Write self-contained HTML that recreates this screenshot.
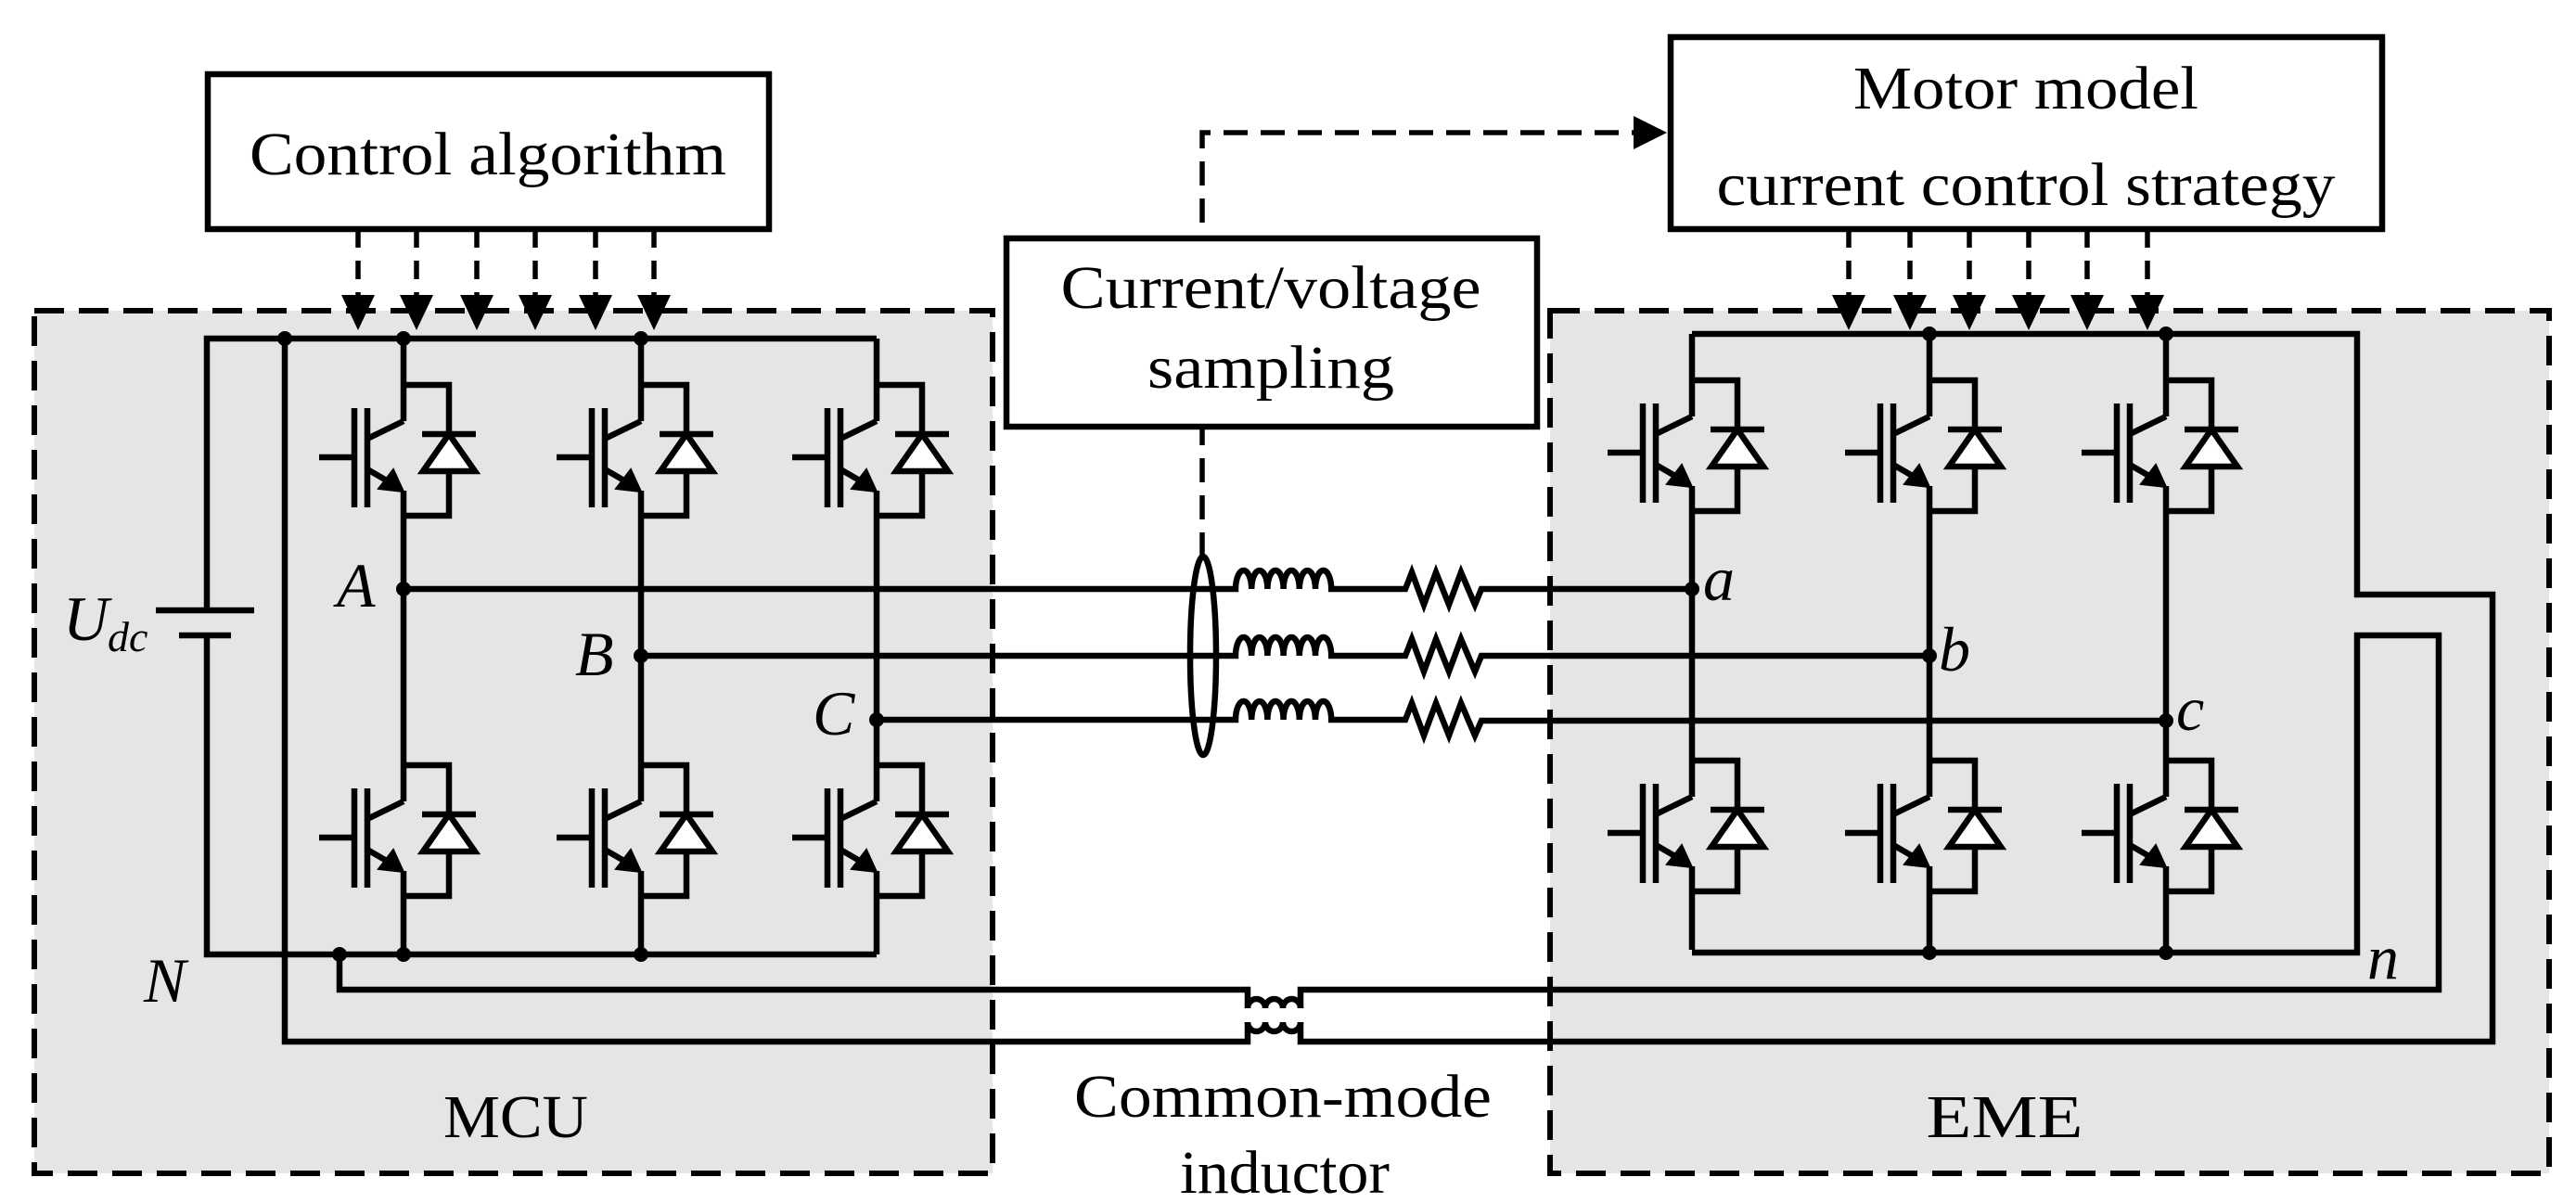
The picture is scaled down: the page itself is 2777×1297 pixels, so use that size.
<!DOCTYPE html>
<html><head><meta charset="utf-8"><style>
html,body{margin:0;padding:0;background:#fff;}
svg{display:block;}
text{font-family:"Liberation Serif",serif;fill:#000;}
</style></head><body>
<svg width="2777" height="1297" viewBox="0 0 2777 1297" xmlns="http://www.w3.org/2000/svg">
<defs>
<g id="sw" fill="none" stroke="#000" stroke-width="6.5">
  <path d="M0,50 H49 V103"/>
  <path d="M49,143 V191 H0"/>
  <path d="M0,89 L-39,108"/>
  <path d="M-39,141 L-8,159"/>
  <path d="M-53,75 V182 M-39,75 V182 M-91,128 H-53"/>
  <path d="M20,103 H78"/>
  <path d="M49,103 L21,143 L77,143 Z" fill="#fff"/>
  <path d="M0,165 L-27,162 L-11,141 Z" fill="#000" stroke-width="2"/>
</g>
<g id="leg" fill="none" stroke="#000" stroke-width="6.5">
  <path d="M0,0 V89 M0,164 V499 M0,574 V664"/>
  <use href="#sw"/>
  <use href="#sw" y="410"/>
</g>
<g id="arr">
  <path d="M0,247 V322" stroke="#000" stroke-width="5.5" stroke-dasharray="20,14" fill="none"/>
  <path d="M-18,318 L18,318 L0,356 Z" fill="#000"/>
</g>
</defs>

<rect x="37" y="335" width="1033" height="930" fill="#e5e5e5" stroke="#000" stroke-width="6" stroke-dasharray="32,16"/>
<rect x="1671" y="335" width="1077" height="930" fill="#e5e5e5" stroke="#000" stroke-width="6" stroke-dasharray="32,16"/>

<rect x="224" y="80" width="605" height="167" fill="#fff" stroke="#000" stroke-width="6.5"/>
<text x="526" y="188" font-size="66" text-anchor="middle" textLength="514" lengthAdjust="spacingAndGlyphs">Control algorithm</text>
<rect x="1801" y="40" width="767" height="207" fill="#fff" stroke="#000" stroke-width="6.5"/>
<text x="2184" y="117" font-size="66" text-anchor="middle" textLength="372" lengthAdjust="spacingAndGlyphs">Motor model</text>
<text x="2184" y="221" font-size="66" text-anchor="middle" textLength="667" lengthAdjust="spacingAndGlyphs">current control strategy</text>

<path d="M1296,600 V143 H1765" fill="none" stroke="#000" stroke-width="5.5" stroke-dasharray="26,14"/>
<path d="M1761,125 L1797,143 L1761,161 Z" fill="#000"/>
<rect x="1085" y="257" width="572" height="203" fill="#fff" stroke="#000" stroke-width="6.5"/>
<text x="1370" y="332" font-size="66" text-anchor="middle" textLength="453" lengthAdjust="spacingAndGlyphs">Current/voltage</text>
<text x="1370" y="418" font-size="66" text-anchor="middle" textLength="266" lengthAdjust="spacingAndGlyphs">sampling</text>

<use href="#arr" x="386"/><use href="#arr" x="449"/><use href="#arr" x="514"/>
<use href="#arr" x="577"/><use href="#arr" x="642"/><use href="#arr" x="705"/>
<use href="#arr" x="1993"/><use href="#arr" x="2059"/><use href="#arr" x="2123"/>
<use href="#arr" x="2187"/><use href="#arr" x="2250"/><use href="#arr" x="2315"/>

<g fill="none" stroke="#000" stroke-width="6.5">
  <path d="M223,658 V365 H945"/>
  <path d="M223,685 V1029 H945"/>
  <path d="M168,658 H274 M193,685 H249"/>
  <path d="M307,365 V1123 H1345 V1102"/>
  <path d="M1402,1102 V1123 H2687 V641 H2541 V360 H1824"/>
  <path d="M366,1029 V1067 H1345 V1087"/>
  <path d="M1402,1087 V1067 H2629 V685 H2541 V1027 H1824"/>
  <path d="M1345,1087 a9.5,10 0 0 1 19,0 a9.5,10 0 0 1 19,0 a9.5,10 0 0 1 19,0"/>
  <path d="M1345,1102 a9.5,10 0 0 0 19,0 a9.5,10 0 0 0 19,0 a9.5,10 0 0 0 19,0"/>
</g>

<use href="#leg" x="435" y="365"/>
<use href="#leg" x="691" y="365"/>
<use href="#leg" x="945" y="365"/>
<use href="#leg" x="1824" y="360"/>
<use href="#leg" x="2080" y="360"/>
<use href="#leg" x="2335" y="360"/>

<g fill="none" stroke="#000" stroke-width="6.5">
  <path d="M435,635 H1332 a8.6,20 0 0 1 17.2,0 a8.6,20 0 0 1 17.2,0 a8.6,20 0 0 1 17.2,0 a8.6,20 0 0 1 17.2,0 a8.6,20 0 0 1 17.2,0 a8.6,20 0 0 1 17.2,0 H1515 L1522,617 L1535,652 L1548,617 L1562,652 L1575,617 L1590,652 L1597,635 H1824"/>
  <path d="M691,707 H1332 a8.6,20 0 0 1 17.2,0 a8.6,20 0 0 1 17.2,0 a8.6,20 0 0 1 17.2,0 a8.6,20 0 0 1 17.2,0 a8.6,20 0 0 1 17.2,0 a8.6,20 0 0 1 17.2,0 H1515 L1522,689 L1535,724 L1548,689 L1562,724 L1575,689 L1590,724 L1597,707 H2080"/>
  <path d="M945,776 H1332 a8.6,20 0 0 1 17.2,0 a8.6,20 0 0 1 17.2,0 a8.6,20 0 0 1 17.2,0 a8.6,20 0 0 1 17.2,0 a8.6,20 0 0 1 17.2,0 a8.6,20 0 0 1 17.2,0 H1515 L1522,758 L1535,793 L1548,758 L1562,793 L1575,758 L1590,793 L1597,777 H2335"/>
  <ellipse cx="1297" cy="707" rx="14" ry="107"/>
</g>

<g fill="#000">
  <circle cx="307" cy="365" r="8"/><circle cx="435" cy="365" r="8"/><circle cx="691" cy="365" r="8"/>
  <circle cx="366" cy="1029" r="8"/><circle cx="435" cy="1029" r="8"/><circle cx="691" cy="1029" r="8"/>
  <circle cx="435" cy="635" r="8"/><circle cx="691" cy="707" r="8"/><circle cx="945" cy="776" r="8"/>
  <circle cx="2080" cy="360" r="8"/><circle cx="2335" cy="360" r="8"/>
  <circle cx="2080" cy="1027" r="8"/><circle cx="2335" cy="1027" r="8"/>
  <circle cx="1824" cy="635" r="8"/><circle cx="2080" cy="707" r="8"/><circle cx="2335" cy="777" r="8"/>
</g>

<g font-style="italic" font-size="68">
  <text x="363" y="654">A</text>
  <text x="620" y="728">B</text>
  <text x="876" y="792">C</text>
  <text x="155" y="1080">N</text>
  <text x="1836" y="647">a</text>
  <text x="2090" y="723">b</text>
  <text x="2346" y="787">c</text>
  <text x="2552" y="1055">n</text>
  <text x="68" y="690">U</text>
  <text x="116" y="702" font-size="46">dc</text>
</g>

<text x="556" y="1226" font-size="66" text-anchor="middle" textLength="156" lengthAdjust="spacingAndGlyphs">MCU</text>
<text x="2161" y="1226" font-size="66" text-anchor="middle" textLength="169" lengthAdjust="spacingAndGlyphs">EME</text>
<text x="1383" y="1204" font-size="66" text-anchor="middle" textLength="450" lengthAdjust="spacingAndGlyphs">Common-mode</text>
<text x="1385" y="1286" font-size="66" text-anchor="middle" textLength="226" lengthAdjust="spacingAndGlyphs">inductor</text>
</svg>
</body></html>
